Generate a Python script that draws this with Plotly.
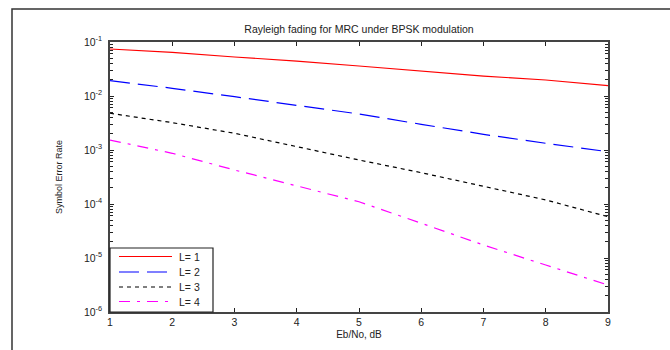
import plotly.graph_objects as go

# Eb/No in dB
ebno_db = [1, 2, 3, 4, 5, 6, 7, 8, 9]

# Symbol error rate for MRC with L diversity branches
ser_L1 = [0.0742, 0.0640, 0.0528, 0.0444, 0.0359, 0.0290, 0.0234, 0.0198, 0.0155]
ser_L2 = [0.0192, 0.0139, 0.0097, 0.0068, 0.00464, 0.00299, 0.00195, 0.00133, 0.00093]
ser_L3 = [0.00479, 0.00321, 0.00204, 0.00115, 0.000653, 0.000380, 0.000216, 0.000119, 5.82e-5]
ser_L4 = [0.00153, 0.000869, 0.000426, 0.000216, 0.000110, 4.40e-5, 1.74e-5, 7.41e-6, 3.16e-6]

series_names = ["L= 1", "L= 2", "L= 3", "L= 4"]
x_ticks = [1, 2, 3, 4, 5, 6, 7, 8, 9]
y_exponents = [-6, -5, -4, -3, -2, -1]

styles = [
    dict(color="#ff0000", dash="solid"),
    dict(color="#0000ff", dash="20px,8px"),
    dict(color="#000000", dash="4px,4px"),
    dict(color="#ff00ff", dash="11px,7px,3px,7px"),
]

# plot area in pixels: left, right, top, bottom
L, R, T, B = 110, 608, 42, 312
W, H = R - L, B - T


def px(xp):
    return (xp - L) / W


def py(yp):
    return (B - yp) / H


fig = go.Figure()
for name, ys, st in zip(series_names, [ser_L1, ser_L2, ser_L3, ser_L4], styles):
    fig.add_trace(go.Scatter(
        x=ebno_db, y=ys, mode="lines", name=name, showlegend=False,
        line=dict(color=st["color"], dash=st["dash"], width=1.2),
    ))

font_family = "Liberation Sans, Arial, sans-serif"

y_tickvals = [10.0 ** e for e in y_exponents]
y_ticktext = ["10<sup>%d</sup>" % e for e in y_exponents]
y_minor = [m * 10.0 ** e for e in y_exponents[:-1] for m in range(2, 10)]

fig.update_layout(
    width=670, height=350,
    margin=dict(l=L, r=670 - R, t=T, b=350 - B),
    paper_bgcolor="white", plot_bgcolor="white",
    font=dict(family=font_family, size=10, color="#222"),
    title=dict(
        text="Rayleigh fading for MRC under BPSK modulation",
        x=0.5, xref="paper", xanchor="center",
        y=1 - 29 / 350, yanchor="middle",
        font=dict(size=10.5, color="#222"),
    ),
    showlegend=False,
    xaxis=dict(
        range=[1, 9], tickvals=x_ticks,
        ticks="inside", ticklen=4, tickcolor="#222",
        showline=True, linecolor="#444", linewidth=1.5, mirror="allticks",
        showgrid=False, zeroline=False,
        tickfont=dict(size=10.5),
        title=dict(text="Eb/No, dB", font=dict(size=10), standoff=4),
    ),
    yaxis=dict(
        type="log", range=[-6, -1],
        tickvals=y_tickvals, ticktext=y_ticktext,
        ticks="inside", ticklen=4, tickcolor="#222",
        minor=dict(tickvals=y_minor, ticks="inside", ticklen=3, tickcolor="#222"),
        showline=True, linecolor="#444", linewidth=1.5, mirror="allticks",
        showgrid=False, zeroline=False,
        tickfont=dict(size=10.5),
        ticklabelstandoff=4,
        title=dict(text="Symbol Error Rate", font=dict(size=9), standoff=20),
    ),
)

# outer figure frame
fig.add_shape(
    type="rect", xref="paper", yref="paper",
    x0=px(12), x1=1.2, y0=-0.3, y1=py(9),
    line=dict(color="#333", width=1.5), fillcolor="rgba(0,0,0,0)",
    layer="below",
)

# legend box in the lower-left corner of the axes
fig.add_shape(
    type="rect", xref="paper", yref="paper",
    x0=0, x1=px(213), y0=0, y1=py(248),
    line=dict(color="#222", width=1.2), fillcolor="white",
)
legend_rows = [256.5, 272, 287, 301.5]
for name, st, yrow in zip(series_names, styles, legend_rows):
    fig.add_shape(
        type="line", xref="paper", yref="paper",
        x0=px(119), x1=px(172), y0=py(yrow), y1=py(yrow),
        line=dict(color=st["color"], dash=st["dash"], width=1.2),
    )
    fig.add_annotation(
        text=name, xref="paper", yref="paper",
        x=px(177), y=py(yrow), xanchor="left", yanchor="middle",
        showarrow=False, font=dict(size=10.5, color="#222"),
    )

fig.write_html("out.html")
